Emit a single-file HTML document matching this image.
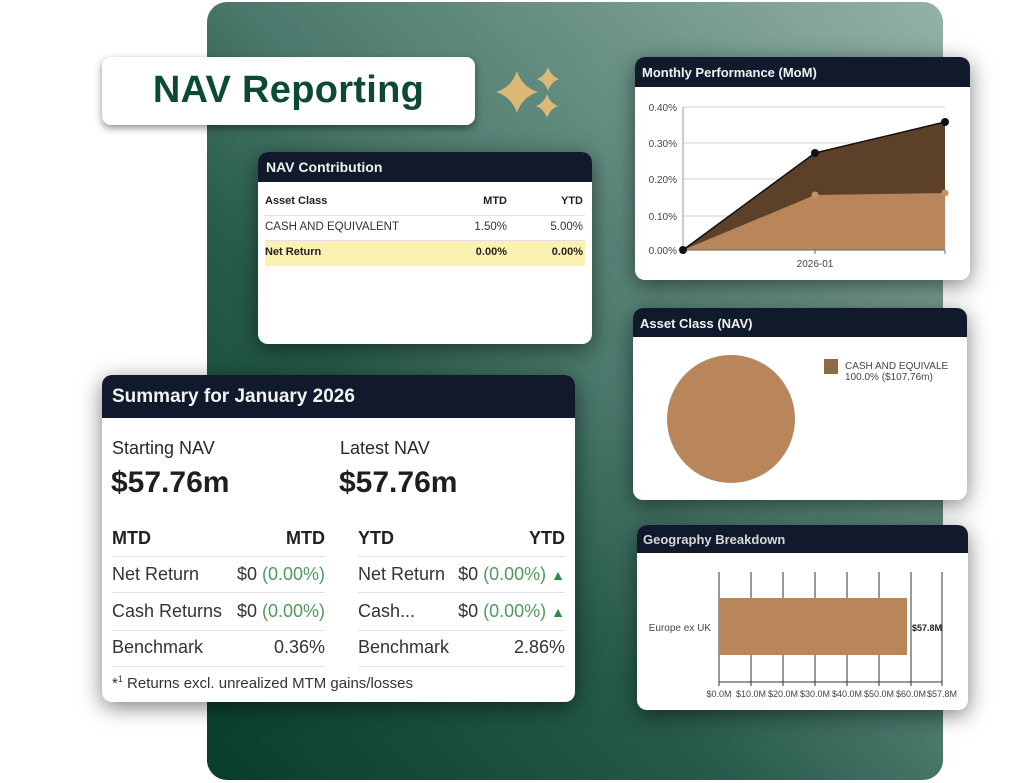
<!DOCTYPE html>
<html>
<head>
<meta charset="utf-8">
<style>
  html,body{margin:0;padding:0;}
  body{width:1024px;height:783px;position:relative;overflow:hidden;background:#ffffff;font-family:"Liberation Sans",Arial,sans-serif;}
  .panel{position:absolute;left:207px;top:2px;width:736px;height:778px;border-radius:20px;
    background:linear-gradient(to top right,#083d2c 0%,#265a4a 35%,#4a786b 52%,#93b1a7 100%);}
  .card{position:absolute;background:#fff;border-radius:10px;overflow:hidden;box-shadow:0 5px 22px rgba(0,0,0,0.5);}
  .hdr{background:#101a2c;color:#f2f2f2;font-weight:bold;position:relative;}
  .abs{position:absolute;white-space:nowrap;}
  .title{position:absolute;left:102px;top:57px;width:373px;height:68px;background:#fff;border-radius:9px;
    box-shadow:0 3px 8px rgba(0,0,0,0.45);display:flex;align-items:center;justify-content:center;
    color:#0d4a35;font-weight:bold;font-size:38px;letter-spacing:0.3px;}
  .sep{position:absolute;height:1px;background:#e2e2e2;}
  .g{color:#4f9a5e;}
</style>
</head>
<body>
<div class="panel"></div>

<div class="title"><span style="position:relative;top:-1px">NAV Reporting</span></div>

<svg class="abs" style="left:0;top:0" width="1024" height="200">
  <g fill="#dcb978">
    <path d="M517,71 Q522,87 538,92 Q522,97 517,113 Q512,97 496,92 Q512,87 517,71 Z"/>
    <path d="M548,67 Q551,76 559,79 Q551,82 548,91 Q545,82 537,79 Q545,76 548,67 Z"/>
    <path d="M547,94 Q550,103 558,106 Q550,109 547,118 Q544,109 536,106 Q544,103 547,94 Z"/>
  </g>
</svg>

<!-- NAV Contribution -->
<div class="card" style="left:258px;top:152px;width:334px;height:192px;">
  <div class="hdr" style="height:30px;font-size:14px;"><span class="abs" style="left:8px;top:7px;">NAV Contribution</span></div>
  <div class="abs" style="left:7px;top:43px;font-size:11px;font-weight:bold;color:#222;">Asset Class</div>
  <div class="abs" style="right:85px;top:43px;font-size:11px;font-weight:bold;color:#222;">MTD</div>
  <div class="abs" style="right:9px;top:43px;font-size:11px;font-weight:bold;color:#222;">YTD</div>
  <div class="sep" style="left:7px;width:320px;top:63px;"></div>
  <div class="abs" style="left:7px;top:69px;font-size:11.5px;color:#333;">CASH AND EQUIVALENT</div>
  <div class="abs" style="right:85px;top:69px;font-size:11.5px;color:#333;">1.50%</div>
  <div class="abs" style="right:9px;top:69px;font-size:11.5px;color:#333;">5.00%</div>
  <div class="sep" style="left:7px;width:320px;top:88px;"></div>
  <div class="abs" style="left:7px;top:89px;width:320px;height:25px;background:#fbf1b3;"></div>
  <div class="abs" style="left:7px;top:94px;font-size:11px;font-weight:bold;color:#222;">Net Return</div>
  <div class="abs" style="right:85px;top:94px;font-size:11px;font-weight:bold;color:#222;">0.00%</div>
  <div class="abs" style="right:9px;top:94px;font-size:11px;font-weight:bold;color:#222;">0.00%</div>
</div>

<!-- Summary -->
<div class="card" style="left:102px;top:375px;width:473px;height:327px;">
  <div class="hdr" style="height:43px;font-size:19px;"><span class="abs" style="left:10px;top:11px;">Summary for January 2026</span></div>
  <div class="abs" style="left:10px;top:63px;font-size:18px;color:#2a2a2a;">Starting NAV</div>
  <div class="abs" style="left:238px;top:63px;font-size:18px;color:#2a2a2a;">Latest NAV</div>
  <div class="abs" style="left:9px;top:91px;font-size:30px;font-weight:bold;color:#1e1e1e;">$57.76m</div>
  <div class="abs" style="left:237px;top:91px;font-size:30px;font-weight:bold;color:#1e1e1e;">$57.76m</div>

  <div class="abs" style="left:10px;top:153px;font-size:18px;font-weight:bold;color:#222;">MTD</div>
  <div class="abs" style="right:250px;top:153px;font-size:18px;font-weight:bold;color:#222;">MTD</div>
  <div class="abs" style="left:256px;top:153px;font-size:18px;font-weight:bold;color:#222;">YTD</div>
  <div class="abs" style="right:10px;top:153px;font-size:18px;font-weight:bold;color:#222;">YTD</div>
  <div class="sep" style="left:10px;width:213px;top:181px;"></div>
  <div class="sep" style="left:256px;width:207px;top:181px;"></div>

  <div class="abs" style="left:10px;top:189px;font-size:18px;color:#333;">Net Return</div>
  <div class="abs" style="right:250px;top:189px;font-size:18px;color:#333;">$0 <span class="g">(0.00%)</span></div>
  <div class="abs" style="left:256px;top:189px;font-size:18px;color:#333;">Net Return</div>
  <div class="abs" style="right:10px;top:189px;font-size:18px;color:#333;">$0 <span class="g">(0.00%)</span> <span style="color:#2e8b3e;font-size:14px;">&#9650;</span></div>
  <div class="sep" style="left:10px;width:213px;top:217px;"></div>
  <div class="sep" style="left:256px;width:207px;top:217px;"></div>

  <div class="abs" style="left:10px;top:226px;font-size:18px;color:#333;">Cash Returns</div>
  <div class="abs" style="right:250px;top:226px;font-size:18px;color:#333;">$0 <span class="g">(0.00%)</span></div>
  <div class="abs" style="left:256px;top:226px;font-size:18px;color:#333;">Cash...</div>
  <div class="abs" style="right:10px;top:226px;font-size:18px;color:#333;">$0 <span class="g">(0.00%)</span> <span style="color:#2e8b3e;font-size:14px;">&#9650;</span></div>
  <div class="sep" style="left:10px;width:213px;top:255px;"></div>
  <div class="sep" style="left:256px;width:207px;top:255px;"></div>

  <div class="abs" style="left:10px;top:262px;font-size:18px;color:#333;">Benchmark</div>
  <div class="abs" style="right:250px;top:262px;font-size:18px;color:#333;">0.36%</div>
  <div class="abs" style="left:256px;top:262px;font-size:18px;color:#333;">Benchmark</div>
  <div class="abs" style="right:10px;top:262px;font-size:18px;color:#333;">2.86%</div>
  <div class="sep" style="left:10px;width:213px;top:291px;"></div>
  <div class="sep" style="left:256px;width:207px;top:291px;"></div>

  <div class="abs" style="left:10px;top:299px;font-size:15px;color:#333;">*<sup style="font-size:9px">1</sup> Returns excl. unrealized MTM gains/losses</div>
</div>

<!-- Monthly Performance -->
<div class="card" style="left:635px;top:57px;width:335px;height:223px;">
  <div class="hdr" style="height:30px;font-size:13px;"><span class="abs" style="left:7px;top:8px;">Monthly Performance (MoM)</span></div>
  <svg class="abs" style="left:0;top:0" width="335" height="223">
    <g stroke="#cfcfcf" stroke-width="1">
      <line x1="48" y1="50" x2="310" y2="50"/>
      <line x1="48" y1="86" x2="310" y2="86"/>
      <line x1="48" y1="122" x2="310" y2="122"/>
      <line x1="48" y1="159" x2="310" y2="159"/>
    </g>
    <line x1="48" y1="50" x2="48" y2="193" stroke="#999" stroke-width="1"/>
    <polygon points="48,193 180,96 310,65 310,193" fill="#5c4128"/>
    <polygon points="48,193 180,138 310,136 310,193" fill="#b8865a"/>
    <polyline points="48,193 180,96 310,65" fill="none" stroke="#111" stroke-width="1.5"/>
    <line x1="48" y1="193" x2="310" y2="193" stroke="#666" stroke-width="1"/>
    <line x1="180" y1="193" x2="180" y2="197" stroke="#666"/>
    <line x1="310" y1="193" x2="310" y2="197" stroke="#666"/>
    <circle cx="180" cy="138" r="3.5" fill="#c4955f"/>
    <circle cx="310" cy="136" r="3.5" fill="#c4955f"/>
    <circle cx="48" cy="193" r="4" fill="#111"/>
    <circle cx="180" cy="96" r="4" fill="#111"/>
    <circle cx="310" cy="65" r="4" fill="#111"/>
    <g font-family="Liberation Sans, Arial, sans-serif" font-size="10" fill="#444" text-anchor="end">
      <text x="42" y="54">0.40%</text>
      <text x="42" y="90">0.30%</text>
      <text x="42" y="126">0.20%</text>
      <text x="42" y="163">0.10%</text>
      <text x="42" y="197">0.00%</text>
    </g>
    <text x="180" y="210" font-family="Liberation Sans, Arial, sans-serif" font-size="10" fill="#444" text-anchor="middle">2026-01</text>
  </svg>
</div>

<!-- Asset Class -->
<div class="card" style="left:633px;top:308px;width:334px;height:192px;">
  <div class="hdr" style="height:29px;font-size:13px;"><span class="abs" style="left:7px;top:8px;">Asset Class (NAV)</span></div>
  <svg class="abs" style="left:0;top:0" width="334" height="192">
    <circle cx="98" cy="111" r="64" fill="#b8865a"/>
    <rect x="191" y="51" width="14" height="15" fill="#8f6a42"/>
    <g font-family="Liberation Sans, Arial, sans-serif" font-size="10" fill="#444">
      <text x="212" y="61">CASH AND EQUIVALE</text>
      <text x="212" y="72">100.0% ($107.76m)</text>
    </g>
  </svg>
</div>

<!-- Geography -->
<div class="card" style="left:637px;top:525px;width:331px;height:185px;">
  <div class="hdr" style="height:28px;font-size:13px;"><span class="abs" style="left:6px;top:7px;color:#d8d8d8;">Geography Breakdown</span></div>
  <svg class="abs" style="left:0;top:0" width="331" height="185">
    <g stroke="#333" stroke-width="1">
      <line x1="82" y1="47" x2="82" y2="161"/>
      <line x1="114" y1="47" x2="114" y2="161"/>
      <line x1="146" y1="47" x2="146" y2="161"/>
      <line x1="178" y1="47" x2="178" y2="161"/>
      <line x1="210" y1="47" x2="210" y2="161"/>
      <line x1="242" y1="47" x2="242" y2="161"/>
      <line x1="274" y1="47" x2="274" y2="161"/>
      <line x1="305" y1="47" x2="305" y2="161"/>
      <line x1="82" y1="157" x2="305" y2="157"/>
    </g>
    <rect x="82" y="73" width="188" height="57" fill="#b8865a"/>
    <g font-family="Liberation Sans, Arial, sans-serif" font-size="10" fill="#444">
      <text x="74" y="106" text-anchor="end">Europe ex UK</text>
      <text x="275" y="106" font-weight="bold" font-size="9" fill="#222">$57.8M</text>
    </g>
    <g font-family="Liberation Sans, Arial, sans-serif" font-size="9" fill="#444" text-anchor="middle">
      <text x="82" y="172">$0.0M</text>
      <text x="114" y="172">$10.0M</text>
      <text x="146" y="172">$20.0M</text>
      <text x="178" y="172">$30.0M</text>
      <text x="210" y="172">$40.0M</text>
      <text x="242" y="172">$50.0M</text>
      <text x="274" y="172">$60.0M</text>
      <text x="305" y="172">$57.8M</text>
    </g>
  </svg>
</div>

</body>
</html>
